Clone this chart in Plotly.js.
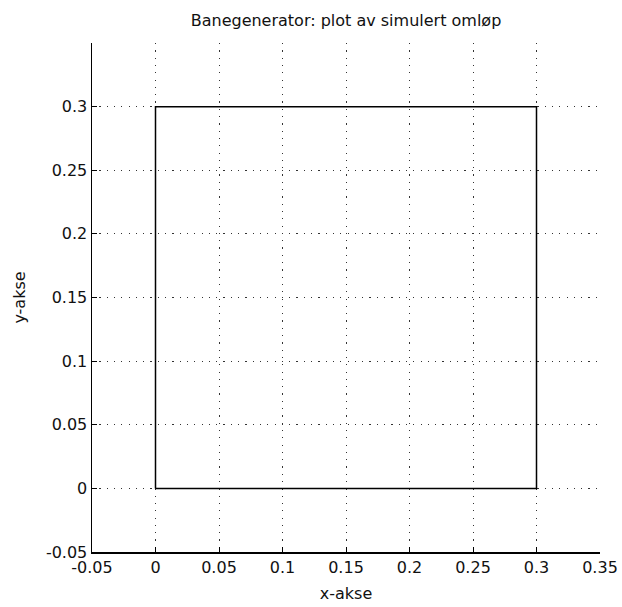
<!DOCTYPE html>
<html>
<head>
<meta charset="utf-8">
<script src="https://cdn.plot.ly/plotly-3.0.1.min.js"></script>
<style>html,body{margin:0;padding:0;background:#fff;}#chart{width:622px;height:607px;}</style>
</head>
<body>
<div id="chart"></div>
<script>
const pathX = [0, 0.3, 0.3, 0, 0];
const pathY = [0, 0, 0.3, 0.3, 0];
const tickVals = [-0.05, 0, 0.05, 0.1, 0.15, 0.2, 0.25, 0.3, 0.35];
const tickText = ['-0.05', '0', '0.05', '0.1', '0.15', '0.2', '0.25', '0.3', '0.35'];
const yTickVals = [-0.05, 0, 0.05, 0.1, 0.15, 0.2, 0.25, 0.3];
const yTickText = ['-0.05', '0', '0.05', '0.1', '0.15', '0.2', '0.25', '0.3'];

const fam = 'DejaVu Sans, Arial, sans-serif';
const tickFont = {family: fam, size: 16, color: '#111'};
const titleFont = {family: fam, size: 16, color: '#111'};

const trace = {
  x: pathX, y: pathY, type: 'scatter', mode: 'lines',
  line: {color: '#000', width: 1.5}, hoverinfo: 'skip'
};

const axisCommon = {
  showline: true, linecolor: '#000', linewidth: 1.5,
  ticks: 'inside', ticklen: 5, tickcolor: '#000', tickwidth: 1,
  showgrid: true, gridcolor: '#333', gridwidth: 1, griddash: '1.2px,6.1px',
  zeroline: false, mirror: false, tickfont: tickFont, fixedrange: true
};

const layout = {
  width: 622, height: 607,
  margin: {l: 92, r: 22, t: 43, b: 55},
  paper_bgcolor: '#fff', plot_bgcolor: '#fff',
  showlegend: false,
  font: tickFont,
  title: {text: 'Banegenerator: plot av simulert omløp', font: titleFont, xref: 'paper', x: 0.5, xanchor: 'center', yref: 'container', y: 0.967, yanchor: 'middle'},
  xaxis: Object.assign({}, axisCommon, {
    range: [-0.05, 0.35], tickmode: 'array', tickvals: tickVals, ticktext: tickText,
    title: {text: 'x-akse', font: titleFont, standoff: 12}
  }),
  yaxis: Object.assign({}, axisCommon, {
    range: [-0.05, 0.35], tickmode: 'array', tickvals: yTickVals, ticktext: yTickText,
    title: {text: 'y-akse', font: titleFont, standoff: 16}
  })
};

Plotly.newPlot('chart', [trace], layout, {displayModeBar: false, staticPlot: true});
</script>
</body>
</html>
